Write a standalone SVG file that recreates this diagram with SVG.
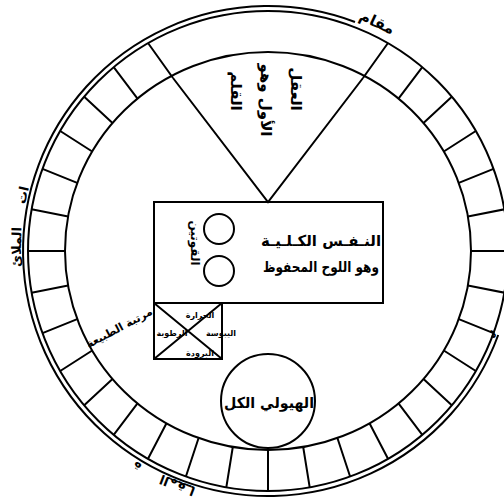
<svg xmlns="http://www.w3.org/2000/svg" width="504" height="504" viewBox="0 0 504 504">
<style>
.ln{fill:none;stroke:#000;stroke-width:2}
.tx{font-family:"DejaVu Sans","Noto Sans",sans-serif;font-weight:bold;fill:#000}
</style>
<rect width="504" height="504" fill="#fff"/>
<g id="ring">
<ellipse class="ln" cx="268" cy="251" rx="203" ry="199"/>
<circle class="ln" cx="268" cy="251" r="240"/>
<path class="ln" d="M355,22 A245,245 0 1 0 498.2,335"/>
</g>
<g id="connectors">
<path class="ln" d="M471,251L508,251M467.9,285.6L504.4,292.7M458.8,319.1L493.5,333.1M443.8,350.5L475.8,371M423.5,378.9L451.8,405.3M398.5,403.4L422.3,434.8M369.5,423.3L388,458.8M337.4,438L350.1,476.5M303.2,447L309.7,487.4M268,450L268,491M232.8,447L226.3,487.4M198.6,438L185.9,476.5M166.5,423.3L148,458.8M137.5,403.4L113.7,434.8M112.5,378.9L84.2,405.3M92.2,350.5L60.2,371M77.2,319.1L42.5,333.1M68.1,285.6L31.6,292.7M65,251L28,251M68.1,216.4L31.6,209.3M77.2,182.9L42.5,168.9M92.2,151.5L60.2,131M112.5,123.1L84.2,96.7M137.5,98.6L113.7,67.2M173,78L148,43M363,78L388,43M398.5,98.6L422.3,67.2M423.5,123.1L451.8,96.7M443.8,151.5L475.8,131M458.8,182.9L493.5,168.9M467.9,216.4L504.4,209.3"/>
</g>
<g id="aql">
<path class="ln" d="M173,78L268,202L363,78"/>
<text class="tx" font-size="15" text-anchor="middle" transform="translate(291,89) rotate(90)">العقل</text>
<text class="tx" font-size="15" text-anchor="middle" transform="translate(261,100) rotate(90)">الأول وهو</text>
<text class="tx" font-size="15" text-anchor="middle" transform="translate(231,91) rotate(90)">القلم</text>
</g>
<g id="nafs">
<rect class="ln" x="154" y="202" width="229" height="101"/>
<circle class="ln" cx="219" cy="229" r="15"/>
<circle class="ln" cx="219" cy="271" r="15"/>
<text class="tx" font-size="12" text-anchor="middle" transform="translate(191,243) rotate(90)">القوتين</text>
<text class="tx" font-size="15" text-anchor="end" x="381" y="246" textLength="120" lengthAdjust="spacingAndGlyphs">النـفـس الكـلـيـة</text>
<text class="tx" font-size="15" text-anchor="end" x="379" y="272" textLength="116" lengthAdjust="spacingAndGlyphs">وهو اللوح المحفوظ</text>
</g>
<g id="tabiaa">
<rect class="ln" x="154" y="303" width="68" height="56"/>
<path class="ln" d="M154,303L222,359M154,359L222,303"/>
<text class="tx" font-size="8" text-anchor="middle" x="200" y="318">الحرارة</text>
<text class="tx" font-size="8" text-anchor="middle" x="172" y="336">الرطوبة</text>
<text class="tx" font-size="8" text-anchor="middle" x="221" y="336">اليبوسة</text>
<text class="tx" font-size="8" text-anchor="middle" x="200" y="356">البرودة</text>
<text class="tx" font-size="11" text-anchor="middle" transform="translate(121,331) rotate(-28)">مرتبة الطبيعة</text>
</g>
<g id="hayula">
<circle class="ln" cx="268" cy="401" r="47"/>
<text class="tx" font-size="15" text-anchor="middle" x="269" y="408" textLength="90" lengthAdjust="spacingAndGlyphs">الهيولي الكل</text>
</g>
<g id="outer-labels">
<text class="tx" font-size="15" text-anchor="middle" transform="translate(375,27) rotate(25)">مقام</text>
<text class="tx" font-size="13" text-anchor="middle" transform="translate(27,196) rotate(-77)">ات</text>
<text class="tx" font-size="13" text-anchor="middle" transform="translate(21,247) rotate(-89)">الملائ</text>
<text class="tx" font-size="13" text-anchor="middle" transform="translate(139,463) rotate(211)">ة</text>
<text class="tx" font-size="13" text-anchor="middle" transform="translate(179,481) rotate(201)">المقـا</text>
<text class="tx" font-size="11" text-anchor="middle" transform="translate(492,334) rotate(110)">م</text>
</g>
</svg>
